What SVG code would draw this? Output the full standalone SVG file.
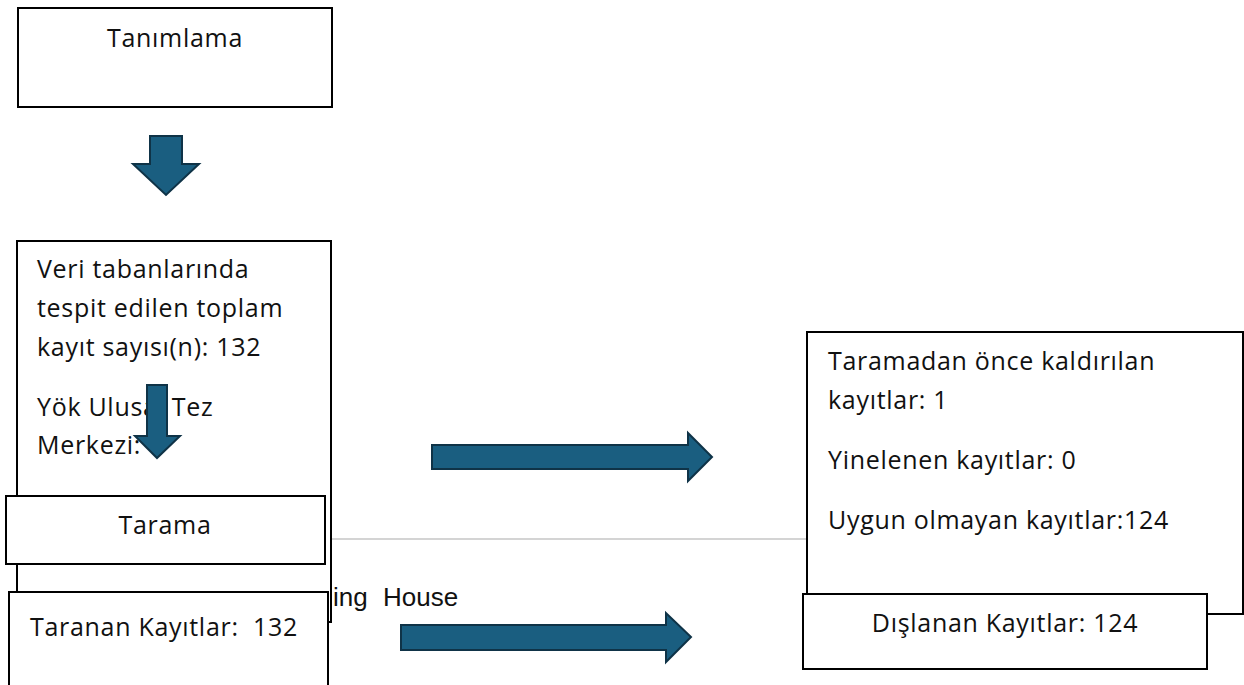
<svg xmlns="http://www.w3.org/2000/svg" width="1244" height="685" viewBox="0 0 1244 685">
<style>
.box{fill:#fff;stroke:#000;stroke-width:2}
.t{font-family:"Open Sans","Liberation Sans",sans-serif;font-size:25px;letter-spacing:0.7px;fill:#111}
.a{font-family:"Liberation Sans",Arial,sans-serif;font-size:26px;fill:#111}
.arr{fill:#1a5e80;stroke:#0f3347;stroke-width:2;stroke-linejoin:miter}
.c{text-anchor:middle}
</style>
<rect width="1244" height="685" fill="#fff"/>
<g id="connectors">
<line x1="330" y1="539" x2="806" y2="539" stroke="#d4d4d4" stroke-width="2"/>
<polygon class="arr" points="150,136 182,136 182,164 199,164 166,195 133,164 150,164"/>
<polygon class="arr" points="432,445 688,445 688,433 712,457 688,481 688,469 432,469"/>
<polygon class="arr" points="401,625 666,625 666,613 691,637 666,662 666,650 401,650"/>
</g>
<g id="tanimlama">
<rect class="box" x="18" y="8" width="314" height="99"/>
<text class="t c" x="175" y="47">Tanımlama</text>
</g>
<g id="veri">
<rect class="box" x="17" y="241" width="314" height="381"/>
<text class="t" x="37" y="278">Veri tabanlarında</text>
<text class="t" x="37" y="317">tespit edilen toplam</text>
<text class="t" x="37" y="356">kayıt sayısı(n): 132</text>
<text class="t" x="37" y="416">Yök Ulusal Tez</text>
<text class="t" x="37" y="454">Merkezi:</text>
<text class="a" y="606"><tspan x="333">ing</tspan><tspan x="383">House</tspan></text>
<polygon class="arr" points="147,385 167,385 167,436 180,436 157,458 135,436 147,436"/>
</g>
<g id="tarama">
<rect class="box" x="6" y="496" width="319" height="68"/>
<text class="t c" x="165" y="534">Tarama</text>
</g>
<g id="taranan">
<rect class="box" x="9" y="592" width="319" height="100"/>
<text class="t" x="30" y="636">Taranan Kayıtlar:&#160; 132</text>
</g>
<g id="kaldirilan">
<rect class="box" x="807" y="332" width="436" height="282"/>
<text class="t" x="828" y="370">Taramadan önce kaldırılan</text>
<text class="t" x="828" y="409">kayıtlar: 1</text>
<text class="t" x="828" y="469">Yinelenen kayıtlar: 0</text>
<text class="t" x="828" y="529">Uygun olmayan kayıtlar:124</text>
</g>
<g id="dislanan">
<rect class="box" x="803" y="594" width="404" height="75"/>
<text class="t c" x="1005" y="632">Dışlanan Kayıtlar: 124</text>
</g>
</svg>
